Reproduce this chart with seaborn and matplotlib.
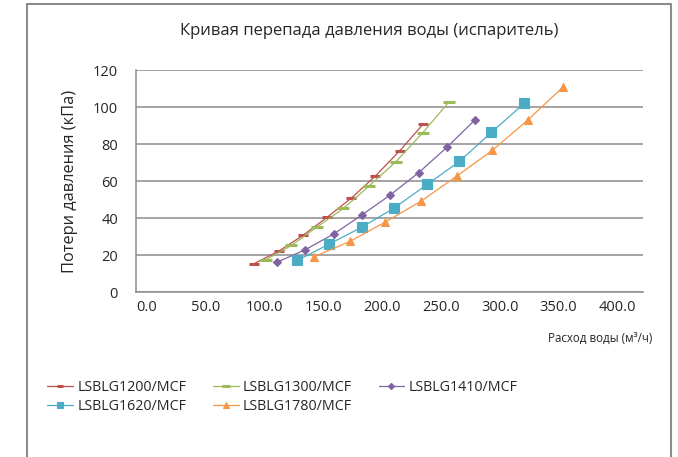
import pandas as pd
import seaborn as sns
import matplotlib.pyplot as plt
from matplotlib.lines import Line2D

# Данные (расход м3/ч, потери кПа)
models = ["LSBLG1200/MCF", "LSBLG1300/MCF", "LSBLG1410/MCF", "LSBLG1620/MCF", "LSBLG1780/MCF"]

flow_1200 = [91, 112.6, 133, 153.4, 173.9, 194.3, 215.1, 235.2]
dp_1200 = [15.3, 22.3, 30.8, 40.5, 50.8, 62.7, 76.4, 91.0]

flow_1300 = [101.3, 122.8, 144.9, 167.1, 189.2, 211.7, 234.6, 256.8]
dp_1300 = [17.5, 25.2, 35.3, 45.2, 57.5, 70.4, 86.1, 102.7]

flow_1410 = [110.9, 134.7, 158.9, 182.7, 206.8, 231.1, 255.1, 279.1]
dp_1410 = [16.2, 22.9, 31.4, 41.6, 52.4, 64.5, 78.2, 93.1]

flow_1620 = [127.9, 154.9, 183.0, 210.2, 238.5, 265.8, 293.0, 320.9]
dp_1620 = [17.1, 25.9, 35.1, 45.4, 58.2, 70.6, 86.3, 102.0]

flow_1780 = [142.1, 172.8, 202.6, 232.9, 263.6, 293.9, 324.0, 354.3]
dp_1780 = [19.1, 27.4, 37.8, 49.0, 62.7, 76.6, 93.0, 111.0]

x_ticks = [0, 50, 100, 150, 200, 250, 300, 350, 400]
y_ticks = [0, 20, 40, 60, 80, 100, 120]

flows = [flow_1200, flow_1300, flow_1410, flow_1620, flow_1780]
dps = [dp_1200, dp_1300, dp_1410, dp_1620, dp_1780]

colores = ["#C0504D", "#9BBB59", "#8064A2", "#4BACC6", "#F79646"]
marcadores = ["_", "_", "D", "s", "^"]
tamanos = [7, 8, 4.5, 6.5, 6]

sns.set_style("white")
plt.rcParams['font.family'] = ['Open Sans', 'DejaVu Sans']
texto = "#262626"

fig = plt.figure(figsize=(6.78, 4.57), dpi=100)
ax = fig.add_axes([0.2006, 0.361, 0.7478, 0.4858])

for nombre, fx, dy, c, m, s in zip(models, flows, dps, colores, marcadores, tamanos):
    df = pd.DataFrame({"flow": fx, "dp": dy})
    sns.lineplot(data=df, x="flow", y="dp", ax=ax, color=c, marker=m, markersize=s,
                 markeredgecolor=c, markeredgewidth=2.2 if m == "_" else 0.8,
                 linewidth=0.9, sort=False, label=nombre, legend=False)

ax.set_xlim(-9.4, 422)
ax.set_ylim(0, 120)
ax.set_xticks(x_ticks)
ax.set_xticklabels([f"{v:.1f}" for v in x_ticks])
ax.set_yticks(y_ticks)
ax.yaxis.grid(True, color="#8C8C8C", linewidth=1.1)
ax.xaxis.grid(False)
for lado in ["top", "right"]:
    ax.spines[lado].set_visible(False)
for lado in ["left", "bottom"]:
    ax.spines[lado].set_color("#8C8C8C")
    ax.spines[lado].set_linewidth(1.1)
ax.tick_params(axis="y", length=0, pad=13, labelsize=10.5, labelcolor=texto)
ax.tick_params(axis="x", length=0, pad=6, labelsize=10.5, labelcolor=texto)
ax.set_xlabel("")
ax.set_ylabel("Потери давления (кПа)", fontsize=11.8, color=texto, labelpad=11)

fig.text(0.545, 0.932, "Кривая перепада давления воды (испаритель)", ha="center", va="center",
         fontsize=12, color=texto)
fig.text(0.962, 0.26, "Расход воды (м³/ч)", ha="right", va="center", fontsize=8.3, color=texto)

# orden de la leyenda por filas (como en el original)
handles, labels = ax.get_legend_handles_labels()
orden = [0, 3, 1, 4, 2]
fig.legend([handles[i] for i in orden], [labels[i] for i in orden], ncol=3, loc="upper left",
           bbox_to_anchor=(0.051, 0.197), frameon=False, fontsize=10.3, handlelength=1.8,
           handletextpad=0.3, columnspacing=1.85, labelspacing=0.3, markerscale=0.7,
           labelcolor=texto)

# marco del gráfico
borde = dict(color="#8C8C8C", linewidth=1.5)
fig.add_artist(Line2D([0.040, 0.040], [0.0, 0.991], **borde))
fig.add_artist(Line2D([0.040, 0.990], [0.991, 0.991], **borde))
fig.add_artist(Line2D([0.990, 0.990], [0.0, 0.991], **borde))

plt.savefig("out.png", dpi=100)
